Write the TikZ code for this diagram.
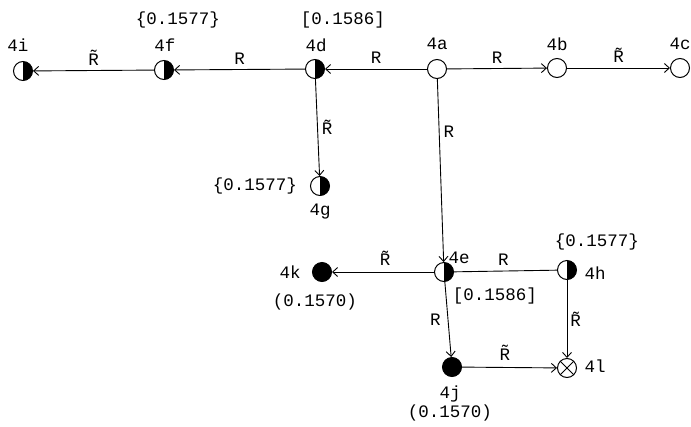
\documentclass[tikz,border=0pt]{standalone}
\usepackage{fontspec}
\setmainfont{Liberation Mono}
\usetikzlibrary{arrows.meta}
\newcommand\Rtil{\~{R}}
\tikzset{
  st/.style={circle,draw,line width=1pt,minimum size=19pt,inner sep=0pt},
  open/.style={st},
  half/.style={st,path picture={\fill (path picture bounding box.north) rectangle (path picture bounding box.south east);}},
  full/.style={st,fill=black},
  crossed/.style={st,path picture={\draw[line width=0.9pt] (path picture bounding box.north west)--(path picture bounding box.south east)
      (path picture bounding box.north east)--(path picture bounding box.south west);}},
  lbl/.style={font=\fontsize{17.5}{20}\selectfont,inner sep=1pt},
  tr/.style={-{Straight Barb[length=5pt,width=9pt]},line width=0.9pt},
}
\begin{document}
\begin{tikzpicture}[x=1pt,y=-1pt]
  \useasboundingbox (0,0) rectangle (691,426);
  % States
  \node[open]    (n4a) at (437,69) {};
  \node[open]    (n4b) at (557,68) {};
  \node[open]    (n4c) at (680,68) {};
  \node[half]    (n4d) at (315,69) {};
  \node[half]    (n4f) at (164,70) {};
  \node[half]    (n4i) at (23,71) {};
  \node[half]    (n4g) at (320,186) {};
  \node[half]    (n4e) at (444,272) {};
  \node[half]    (n4h) at (567,270) {};
  \node[full]    (n4k) at (322,272) {};
  \node[full]    (n4j) at (452,367) {};
  \node[crossed] (n4l) at (567,368) {};
  % Names
  \node[lbl] (t4a) at (437,44) {4a};
  \node[lbl] (t4b) at (557,44) {4b};
  \node[lbl] (t4c) at (680,44) {4c};
  \node[lbl] (t4d) at (316,45) {4d};
  \node[lbl] (t4f) at (165,45) {4f};
  \node[lbl] (t4i) at (18,45) {4i};
  \node[lbl] (t4g) at (320,212) {4g};
  \node[lbl] (t4e) at (459,258) {4e};
  \node[lbl] (t4h) at (595,273) {4h};
  \node[lbl] (t4k) at (290,272) {4k};
  \node[lbl] (t4j) at (450,394) {4j};
  \node[lbl] (t4l) at (595,366) {4l};
  % Values
  \node[lbl] (v4f) at (178,20) {\{0.1577\}};
  \node[lbl] (v4d) at (343,20) {[0.1586]};
  \node[lbl] (v4g) at (255,186) {\{0.1577\}};
  \node[lbl] (v4e) at (495,296) {[0.1586]};
  \node[lbl] (v4h) at (597,242) {\{0.1577\}};
  \node[lbl] (v4k) at (315,302) {(0.1570)};
  \node[lbl] (v4j) at (450,413) {(0.1570)};
  % Transitions
  \draw[tr] (n4a) -- node[lbl,above=4pt] {R} (n4d);
  \draw[tr] (n4d) -- node[lbl,above=4pt] {R} (n4f);
  \draw[tr] (n4f) -- node[lbl,above=4pt] {\Rtil} (n4i);
  \draw[tr] (n4a) -- node[lbl,above=4pt] {R} (n4b);
  \draw[tr] (n4b) -- node[lbl,above=4pt] {\Rtil} (n4c);
  \draw[tr] (n4d) -- node[lbl,right=3pt] {\Rtil} (n4g);
  \draw[tr] (n4a) -- node[lbl,right=3pt,pos=0.29] {R} (n4e);
  \draw[tr] (n4e) -- node[lbl,above=5pt,pos=0.48] {\Rtil} (n4k);
  \draw[line width=0.9pt] (n4e) -- node[lbl,above=4pt,pos=0.48] {R} (n4h);
  \draw[tr] (n4e) -- node[lbl,left=6pt] {R} (n4j);
  \draw[tr] (n4h) -- node[lbl,right=2pt] {\Rtil} (n4l);
  \draw[tr] (n4j) -- node[lbl,above=6pt,pos=0.45] {\Rtil} (n4l);
\end{tikzpicture}
\end{document}
